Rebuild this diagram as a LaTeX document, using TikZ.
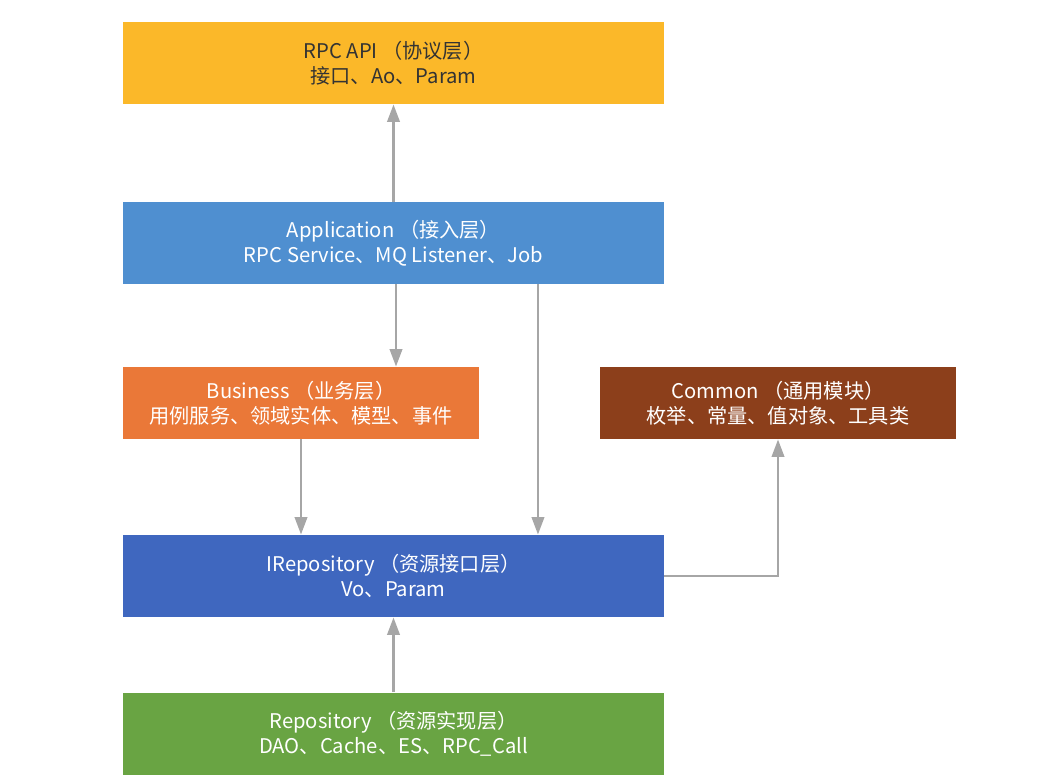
\documentclass[tikz,border=0pt]{standalone}
\usepackage{fontspec}
\setmainfont{Noto Sans CJK SC}
\usepackage{xcolor}
\usetikzlibrary{arrows.meta}

\definecolor{apiyellow}{HTML}{FBB829}
\definecolor{appblue}{HTML}{4F8FD0}
\definecolor{bizorange}{HTML}{EA7838}
\definecolor{commonbrown}{HTML}{8C3F1B}
\definecolor{irepoblue}{HTML}{3F67BF}
\definecolor{repogreen}{HTML}{69A443}
\definecolor{arrowgray}{HTML}{A6A6A6}

\begin{document}
\begin{tikzpicture}[x=0.02cm, y=-0.02cm,
    layer/.style={minimum width=10.82cm, minimum height=1.64cm, inner sep=0pt,
                  align=center, text=white, font=\fontsize{11.5}{14.5}\selectfont},
    halflayer/.style={layer, minimum width=7.12cm, minimum height=1.44cm},
    link/.style={draw=arrowgray, line width=1.6pt,
                 -{Triangle[width=7pt, length=10pt]}}]
  \useasboundingbox (0,0) rectangle (1037,777);

  % layers
  \node[layer, fill=apiyellow, text=black!80] (api) at (393.5,63) {RPC API （协议层）\\接口、Ao、Param};
  \node[layer, fill=appblue] (app) at (393.5,243) {Application （接入层）\\RPC Service、MQ Listener、Job};
  \node[halflayer, fill=bizorange] (biz) at (301,403) {Business （业务层）\\用例服务、领域实体、模型、事件};
  \node[halflayer, fill=commonbrown] (common) at (778,403) {Common （通用模块）\\枚举、常量、值对象、工具类};
  \node[layer, fill=irepoblue] (irepo) at (393.5,576) {IRepository （资源接口层）\\Vo、Param};
  \node[layer, fill=repogreen] (repo) at (393.5,733.5) {Repository （资源实现层）\\DAO、Cache、ES、RPC\_Call};

  % dependencies
  \draw[link] (app.north) -- (api.south);
  \draw[link] ([xshift=0.05cm]app.south) -- ([xshift=0.05cm]app.south |- biz.north);
  \draw[link] ([xshift=2.89cm]app.south) -- ([xshift=2.89cm]app.south |- irepo.north);
  \draw[link] (biz.south) -- (biz.south |- irepo.north);
  \draw[link] (irepo.east) -| (common.south);
  \draw[link] (repo.north) -- (irepo.south);

\end{tikzpicture}
\end{document}
